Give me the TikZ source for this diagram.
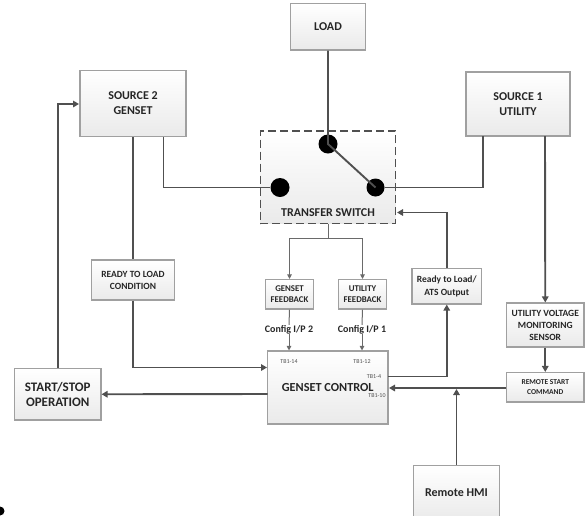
\documentclass[tikz,border=0pt]{standalone}
\usepackage{fontspec}
\setmainfont{Carlito}
\usetikzlibrary{arrows.meta,calc}
\definecolor{boxline}{HTML}{A0A0A0}
\definecolor{boxbot}{HTML}{EAEAEA}
\definecolor{wire}{HTML}{505050}
\definecolor{txt}{HTML}{262626}
\tikzset{
  blockbox/.style={draw=boxline,line width=1.1pt,top color=white,bottom color=boxbot,inner sep=0pt,align=center,text=txt,font=\bfseries\fontsize{12}{15}\selectfont},
  smallbox/.style={blockbox,font=\bfseries\fontsize{9.5}{12}\selectfont},
  midbox/.style={blockbox,font=\bfseries\fontsize{9.5}{12.5}\selectfont},
  terminal/.style={circle,fill=black,inner sep=0pt,minimum size=19pt},
  wirea/.style={draw=wire,line width=1.9pt},
  wireb/.style={draw=wire!85,line width=1pt},
  arra/.style={wirea,-{Triangle[length=6pt,width=6.5pt]}},
  arrb/.style={wireb,-{Triangle[length=4.5pt,width=4.5pt]}},
  lbl/.style={inner sep=0pt,text=txt,font=\bfseries\fontsize{10}{12}\selectfont},
  tb/.style={inner sep=0pt,text=wire,font=\fontsize{6}{7}\selectfont},
}
\begin{document}
\begin{tikzpicture}[x=1pt,y=-1pt]
\useasboundingbox (0,0) rectangle (585,515);
% blocks
\node[blockbox,minimum width=74.5pt,minimum height=46.5pt] (load) at (328,26.75) {LOAD};
\node[blockbox,minimum width=106pt,minimum height=66.5pt] (src2) at (133,103.5) {SOURCE 2\\GENSET};
\node[blockbox,minimum width=104pt,minimum height=64pt] (src1) at (518,104) {SOURCE 1\\UTILITY};
\node[blockbox,draw=wire,dashed,dash pattern=on 8pt off 4pt,minimum width=135.5pt,minimum height=92.5pt] (ats) at (328,177.25) {};
\node[lbl,font=\bfseries\fontsize{12}{14}\selectfont] (atslabel) at (328,213) {TRANSFER SWITCH};
\node[terminal] (top) at (328,144) {};
\node[terminal] (left) at (280,187.5) {};
\node[terminal,minimum size=18pt] (right) at (375.5,187.5) {};
\node[smallbox,minimum width=83pt,minimum height=40pt] (ready2) at (133,280) {READY TO LOAD\\CONDITION};
\node[smallbox,font=\bfseries\fontsize{8.8}{10.5}\selectfont,minimum width=48pt,minimum height=29.5pt] (gfb) at (289.5,294.25) {GENSET\\FEEDBACK};
\node[smallbox,font=\bfseries\fontsize{8.8}{10.5}\selectfont,minimum width=48pt,minimum height=29.5pt] (ufb) at (362.5,294.25) {UTILITY\\FEEDBACK};
\node[midbox,minimum width=69.5pt,minimum height=35.5pt] (ats2) at (446.75,286.25) {Ready to Load/\\ATS Output};
\node[blockbox,minimum width=120.5pt,minimum height=73pt,font=\bfseries\fontsize{12.3}{15}\selectfont] (ctrl) at (327.75,387.5) {GENSET CONTROL};
\node[blockbox,minimum width=86.5pt,minimum height=51.5pt,font=\bfseries\fontsize{13}{15}\selectfont] (start) at (57.75,394.25) {START/STOP\\OPERATION};
\node[midbox,minimum width=77.5pt,minimum height=44pt,font=\bfseries\fontsize{9.5}{12}\selectfont] (uvm) at (545.25,325) {UTILITY VOLTAGE\\MONITORING\\SENSOR};
\node[smallbox,font=\bfseries\fontsize{7.5}{10}\selectfont,minimum width=77.5pt,minimum height=29.5pt] (rsc) at (545.25,387.25) {REMOTE START\\COMMAND};
\node[blockbox,minimum width=86pt,minimum height=55pt] (hmi) at (456.5,493) {Remote HMI};
% labels
\node[lbl] (cfg2) at (289,329.5) {Config I/P 2};
\node[lbl] (cfg1) at (362,329.5) {Config I/P 1};
\node[tb] (t14) at (289,362) {TB1-14};
\node[tb] (t12) at (362,362) {TB1-12};
\node[tb] (t4) at (374,376.5) {TB1-4};
\node[tb] (t10) at (377,396) {TB1-10};
% anchor points
\coordinate (src2r) at (163.5,137);
\coordinate (src2l) at (79,104);
\coordinate (src1l) at (483,136);
\coordinate (src1r) at (545,136);
\coordinate (split) at (328,238.5);
\coordinate (ctrlin) at (267,367.5);
\coordinate (ctrlout) at (267.5,394);
\coordinate (ctrl4) at (388,376.5);
\coordinate (ctrl10) at (389,388);
\coordinate (atsin) at (397,212.5);
\coordinate (hmiin) at (456.5,389);
% connectors
\draw[wirea] (load.south) -- (top.center) -- (right.center);
\draw[wirea] (src2r) |- (left);
\draw[wirea] (src1l) |- (right);
\draw[wireb] (ats.south) -- (split);
\draw[arrb] (split) -| (gfb.north);
\draw[arrb] (split) -| (ufb.north);
\draw[wireb] (gfb.south) -- (cfg2.north);
\draw[wireb] (ufb.south) -- (cfg1.north);
\draw[arrb] (cfg2.south) -- (cfg2.south |- ctrl.north);
\draw[arrb] (cfg1.south) -- (cfg1.south |- ctrl.north);
\draw[arra] (ats2.north) |- (atsin);
\draw[arra] (ctrl4) -| (ats2.south);
\draw[wirea] (src2.south) -- (ready2.north);
\draw[arra] (ready2.south) |- (ctrlin);
\draw[arra] (ctrlout) -- (start.east);
\draw[arra] (start.north) |- (src2l);
\draw[arra] (src1r) -- (uvm.north);
\draw[arra] (uvm.south) -- (rsc.north);
\draw[arra] (rsc.west |- ctrl10) -- (ctrl10);
\draw[arra] (hmi.north) -- (hmiin);
\fill[black] (0,511) circle (4.5pt);
\end{tikzpicture}
\end{document}
